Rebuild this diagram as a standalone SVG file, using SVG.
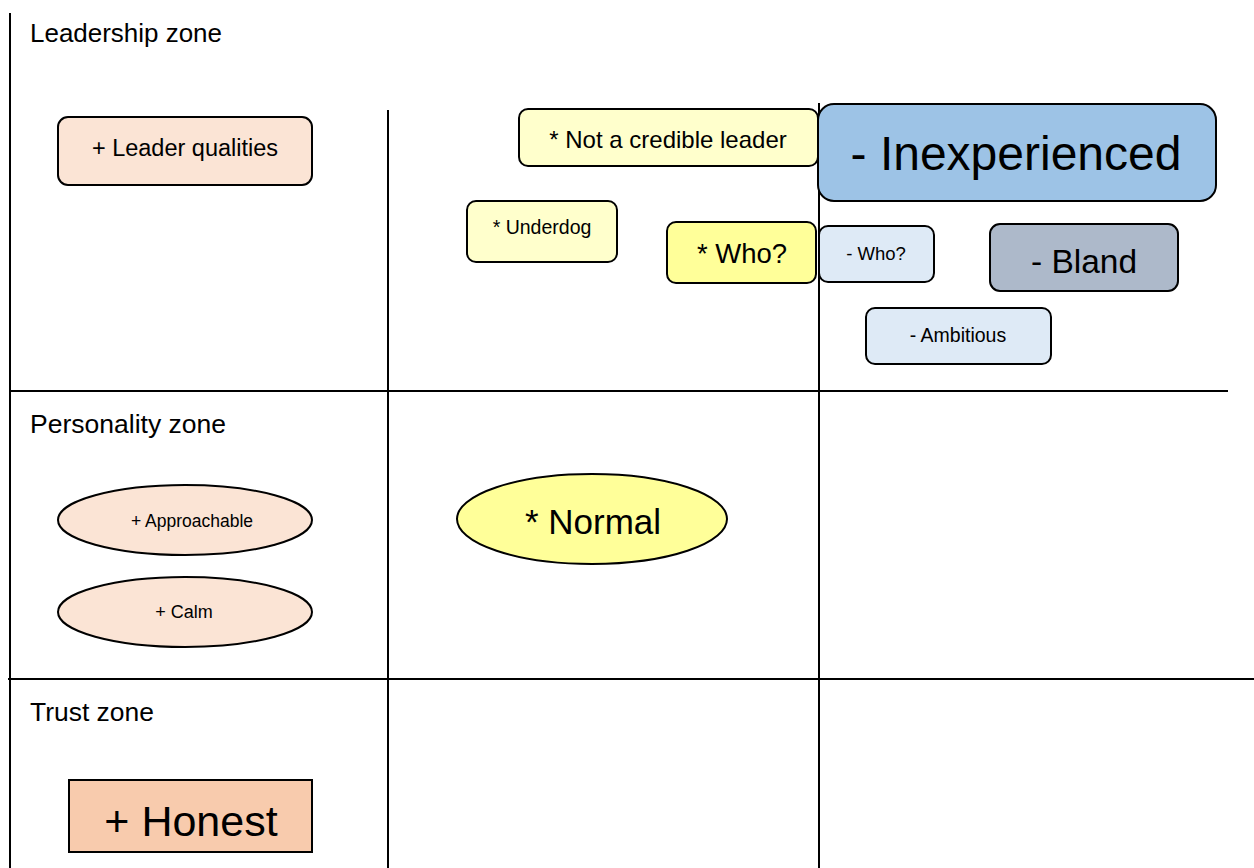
<svg xmlns="http://www.w3.org/2000/svg" width="1254" height="868" viewBox="0 0 1254 868">
<style>
text{font-family:"Liberation Sans",Arial,sans-serif;fill:#000}
.n{stroke:#000;stroke-width:2}
.c{text-anchor:middle}
.ln{stroke:#000;stroke-width:2;fill:none}
</style>
<rect width="1254" height="868" fill="#fff"/>
<g id="grid">
<line class="ln" x1="10" y1="13" x2="10" y2="868"/>
<line class="ln" x1="388" y1="110" x2="388" y2="868"/>
<line class="ln" x1="819" y1="103" x2="819" y2="868"/>
<line class="ln" x1="10" y1="391" x2="1228" y2="391"/>
<line class="ln" x1="8" y1="679" x2="1254" y2="679"/>
</g>
<g id="labels">
<text x="30" y="42" font-size="25.5" textLength="192" lengthAdjust="spacingAndGlyphs">Leadership zone</text>
<text x="30" y="433" font-size="25.5" textLength="196" lengthAdjust="spacingAndGlyphs">Personality zone</text>
<text x="30" y="721" font-size="25.5" textLength="124" lengthAdjust="spacingAndGlyphs">Trust zone</text>
</g>
<g id="leader-qualities"><rect class="n" x="58" y="117" width="254" height="68" rx="10" fill="#FBE4D5"/><text class="c" x="185" y="156" font-size="23.5">+ Leader qualities</text></g>
<g id="not-credible"><rect class="n" x="519" y="109" width="299" height="57" rx="9" fill="#FFFFCC"/><text class="c" x="668" y="148" font-size="24">* Not a credible leader</text></g>
<g id="inexperienced"><rect class="n" x="818" y="104" width="398" height="97" rx="16" fill="#9DC3E6"/><text class="c" x="1016" y="170" font-size="48">- Inexperienced</text></g>
<g id="underdog"><rect class="n" x="467" y="201" width="150" height="61" rx="9" fill="#FFFFCC"/><text class="c" x="542" y="234" font-size="19.5">* Underdog</text></g>
<g id="who-star"><rect class="n" x="667" y="222" width="149" height="61" rx="9" fill="#FFFF99"/><text class="c" x="742" y="263" font-size="27.5">* Who?</text></g>
<g id="who-minus"><rect class="n" x="819" y="226" width="115" height="56" rx="9" fill="#DEEAF6"/><text class="c" x="876" y="260" font-size="18.5">- Who?</text></g>
<g id="bland"><rect class="n" x="990" y="224" width="188" height="67" rx="10" fill="#ADB9CA"/><text class="c" x="1084" y="273" font-size="33.5">- Bland</text></g>
<g id="ambitious"><rect class="n" x="866" y="308" width="185" height="56" rx="9" fill="#DEEAF6"/><text class="c" x="958" y="342" font-size="19.5">- Ambitious</text></g>
<g id="approachable"><ellipse class="n" cx="185" cy="520" rx="127" ry="35" fill="#FBE4D5"/><text class="c" x="192" y="527" font-size="17.5">+ Approachable</text></g>
<g id="calm"><ellipse class="n" cx="185" cy="612" rx="127" ry="35" fill="#FBE4D5"/><text class="c" x="184" y="618" font-size="18">+ Calm</text></g>
<g id="normal"><ellipse class="n" cx="592" cy="519" rx="135" ry="45" fill="#FFFF99"/><text class="c" x="593" y="534" font-size="35">* Normal</text></g>
<g id="honest"><rect class="n" x="69" y="780" width="243" height="72" fill="#F8CBAD"/><text class="c" x="191" y="836" font-size="43">+ Honest</text></g>
</svg>
